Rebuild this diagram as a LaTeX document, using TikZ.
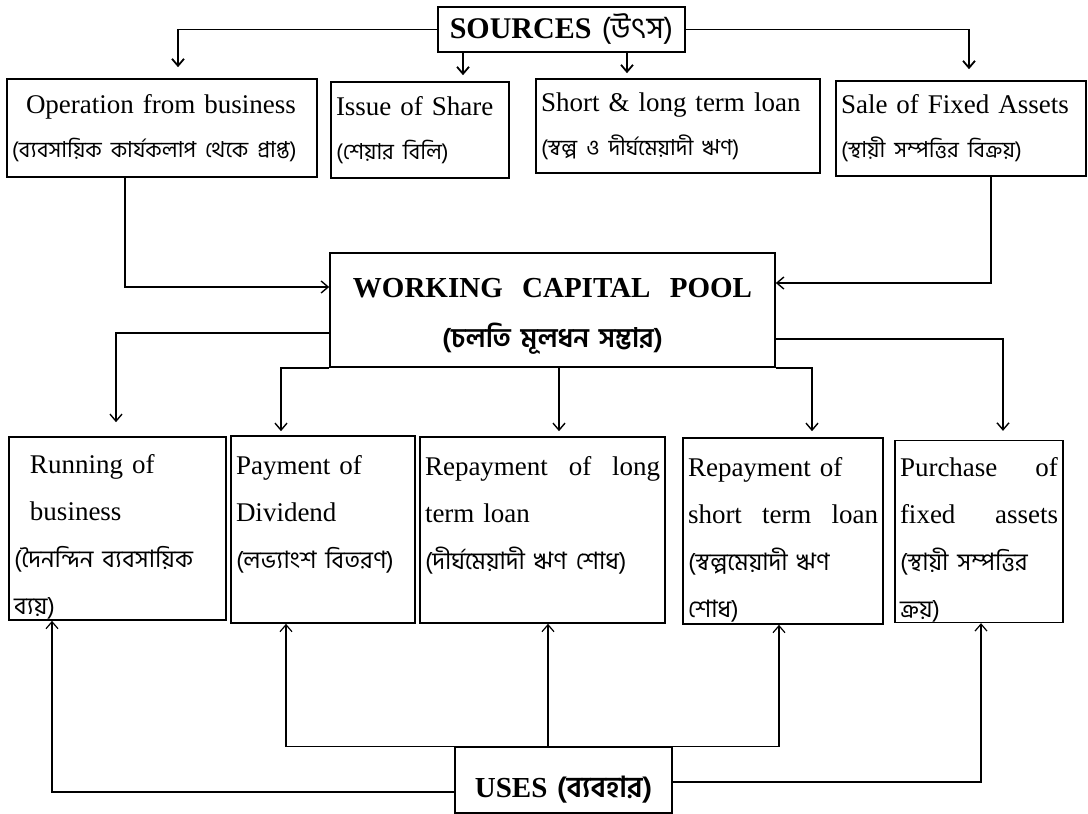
\documentclass[tikz,border=0pt]{standalone}
\usepackage{fontspec}
\setmainfont{Liberation Serif}
\newfontfamily\bn[Script=Bengali]{Hind Siliguri}
\newcommand{\bng}{\bn\fontsize{24}{47}\selectfont\spaceskip=9pt plus 3pt}
\newcommand{\bnt}{\bn\fontsize{22}{44}\selectfont\spaceskip=9pt plus 3pt}
\newcommand{\bnh}{\bn\bfseries\fontsize{27}{50}\selectfont}
\usetikzlibrary{arrows.meta}

\begin{document}
\begin{tikzpicture}[x=1pt,y=-1pt,>={Straight Barb[length=7pt,width=12pt]},line width=1.4pt]
  \tikzstyle{box}=[draw,line width=1.6pt,align=left,inner xsep=5pt,inner ysep=0pt,
    font={\fontsize{27}{44}\selectfont\spaceskip=12pt plus 4pt}]
  \tikzstyle{usebox}=[box,font={\fontsize{27}{47}\selectfont\spaceskip=12pt plus 4pt},
    execute at begin node={\rule{0pt}{36pt}}]
  \tikzstyle{head}=[box,align=center,font={\fontsize{29}{50}\selectfont\bfseries\spaceskip=12pt}]

  \useasboundingbox (0,0) rectangle (1088,814);

  % sources
  \node[box,align=center,text width=237pt,minimum height=45pt,
    font={\fontsize{30}{36}\selectfont\spaceskip=12pt}] (src) at (561.5,29.5)
    {\textbf{SOURCES} {\bn\fontsize{30}{36}\selectfont (উৎস)}};
  \node[box,text width=300pt,minimum height=98pt] (ob) at (162,128)
    {\hspace*{14pt}Operation from business\\ \mbox{\bnt (ব্যবসায়িক কার্যকলাপ থেকে প্রাপ্ত)}};
  \node[box,text width=168pt,minimum height=96pt] (is) at (420,130)
    {Issue of Share\\ {\bnt (শেয়ার বিলি)}};
  \node[box,text width=274pt,minimum height=94pt] (sl) at (678,126)
    {Short \& long term loan\\ {\bnt (স্বল্প ও দীর্ঘমেয়াদী ঋণ)}};
  \node[box,text width=240pt,minimum height=95pt] (sa) at (961,128.5)
    {Sale of Fixed Assets\\ {\bnt (স্থায়ী সম্পত্তির বিক্রয়)}};

  % pool
  \node[head,text width=435pt,minimum height=114pt] (wcp) at (552.5,310)
    {\rule{0pt}{32pt}WORKING\ \ CAPITAL\ \ POOL\\ {\bnh (চলতি মূলধন সম্ভার)}};

  % uses
  \node[usebox,text width=207pt,minimum height=183pt] (run) at (117.5,528.5)
    {\hspace*{16pt}Running of\\ \hspace*{16pt}business\\ {\bng (দৈনন্দিন ব্যবসায়িক}\\ {\bng ব্যয়)}};
  \node[usebox,text width=174pt,minimum height=187pt] (pay) at (323,529.5)
    {Payment of\\ Dividend\\ {\bng (লভ্যাংশ বিতরণ)}\\ {\bng\vphantom{ব্যয়)}}};
  \node[usebox,text width=235pt,minimum height=186pt] (lng) at (542.5,530)
    {Repayment\hfill of\hfill long\\ term loan\\ {\bng (দীর্ঘমেয়াদী ঋণ শোধ)}\\ {\bng\vphantom{ব্যয়)}}};
  \node[usebox,text width=190pt,minimum height=186pt] (rs) at (783,531)
    {Repayment of\\ short\hfill term\hfill loan\\ {\bng (স্বল্পমেয়াদী ঋণ}\\ {\bng শোধ)}};
  \node[usebox,text width=158pt,minimum height=181pt] (pur) at (979,531.5)
    {Purchase\hfill of\\ fixed\hfill assets\\ {\bng (স্থায়ী সম্পত্তির}\\ {\bng ক্রয়)}};
  \node[head,text width=207pt,minimum height=66pt] (uses) at (563.5,780)
    {\rule{0pt}{40pt}USES\ {\bnh\fontsize{29}{50}\selectfont (ব্যবহার)}};

  % sources to the four boxes
  \draw[->,line width=1.8pt,shorten >=11pt] (src.west) -| ([xshift=16pt]ob.north);
  \draw[->,line width=1.8pt,shorten >=6pt] ([xshift=-98.5pt]src.south) -- ([xshift=43pt]is.north);
  \draw[->,line width=1.8pt,shorten >=5pt] ([xshift=65.5pt]src.south) -- ([xshift=-51pt]sl.north);
  \draw[->,line width=1.8pt,shorten >=11pt] (src.east) -| ([xshift=8pt]sa.north);

  % into the pool
  \draw[->] ([xshift=-37pt]ob.south) |- ([yshift=23pt]wcp.west);
  \draw[->] ([xshift=30pt]sa.south) |- ([yshift=27pt]wcp.east);

  % out of the pool
  \draw[->,shorten >=14pt] ([yshift=-23pt]wcp.west) -| ([xshift=-1.5pt]run.north);
  \draw[->,shorten >=4pt] (wcp.south west) -| ([xshift=-42pt]pay.north);
  \draw[->,shorten >=5pt] ([xshift=6.5pt]wcp.south) -- ([xshift=16.5pt]lng.north);
  \draw[->,shorten >=6pt] (wcp.south east) -| ([xshift=29pt]rs.north);
  \draw[->,shorten >=9pt] ([yshift=-29pt]wcp.east) -| ([xshift=24pt]pur.north);

  % from the uses box
  \draw[->,line width=1.2pt] ([yshift=-12pt]uses.west) -| ([xshift=-65.5pt]run.south);
  \draw[->,line width=1.2pt] (uses.north west) -| ([xshift=-37pt]pay.south);
  \draw[->,line width=1.2pt] ([xshift=-15.5pt]uses.north) -- ([xshift=5.5pt]lng.south);
  \draw[->,line width=1.2pt] (uses.north east) -| ([xshift=-4pt]rs.south);
  \draw[->,line width=1.2pt] ([yshift=-2pt]uses.east) -| ([xshift=2pt]pur.south);
\end{tikzpicture}
\end{document}
